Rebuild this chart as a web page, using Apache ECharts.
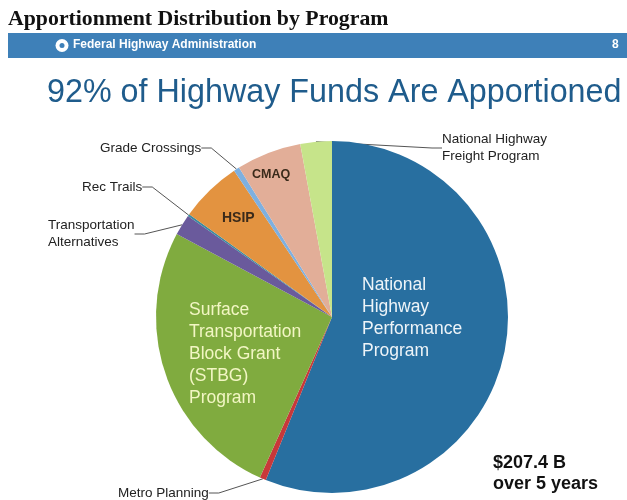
<!DOCTYPE html>
<html>
<head>
<meta charset="utf-8">
<script src="https://cdn.jsdelivr.net/npm/echarts@6/dist/echarts.min.js"></script>
<style>
  html, body { margin: 0; padding: 0; background: #fff; }
  #chart { width: 627px; height: 500px; }
</style>
</head>
<body>
<div id="chart"></div>
<script>
// programs, clockwise from 12 o'clock
var categories = [
    'National Highway Performance Program',
    'Metro Planning',
    'Surface Transportation Block Grant (STBG) Program',
    'Transportation Alternatives',
    'Rec Trails',
    'HSIP',
    'Grade Crossings',
    'CMAQ',
    'National Highway Freight Program'
];
// $ billions, FY2016-2020
var apportioned = [116.6, 1.2, 54.2, 4.0, 0.4, 11.8, 1.1, 12.4, 6.0];
var sliceLabels = [
    'National\nHighway\nPerformance\nProgram',
    'Metro Planning',
    'Surface\nTransportation\nBlock Grant\n(STBG)\nProgram',
    'Transportation\nAlternatives',
    'Rec Trails',
    'HSIP',
    'Grade Crossings',
    'CMAQ',
    'National Highway\nFreight Program'
];

var colors = ['#286fa0', '#c8383a', '#80ab3f', '#6a5a9c', '#3a8aa0', '#e39340', '#7eb0e0', '#e2ae98', '#c6e48a'];

// where each label sits (inside labels and call-outs)
var labelPos = [
    {x: 362, y: 318, inside: true, size: 17.5, color: '#eef4f8', lh: 22},
    {x: 118, y: 493, size: 13.5, color: '#222', lh: 14},
    {x: 189, y: 354, inside: true, size: 17.5, color: '#f2f6c4', lh: 22},
    {x: 48, y: 234, size: 13.5, color: '#222', lh: 17},
    {x: 82, y: 187, size: 13.5, color: '#222', lh: 14},
    {x: 222, y: 218, inside: true, size: 14, color: '#3a2a1a', lh: 14, bold: true},
    {x: 100, y: 148, size: 13.5, color: '#222', lh: 14},
    {x: 252, y: 175, inside: true, size: 12.5, color: '#3a2a1a', lh: 14, bold: true},
    {x: 442, y: 148, size: 13.5, color: '#222', lh: 17}
];

var data = categories.map(function (name, i) {
    var p = labelPos[i];
    return {
        name: name,
        value: apportioned[i],
        itemStyle: {color: colors[i]},
        label: {
            show: true,
            position: p.inside ? 'inside' : 'outside',
            formatter: sliceLabels[i],
            fontSize: p.size,
            fontWeight: p.bold ? 'bold' : 'normal',
            lineHeight: p.lh,
            color: p.color,
            align: 'left'
        },
        labelLine: {show: !p.inside}
    };
});

var myChart = echarts.init(document.getElementById('chart'));

var option = {
    backgroundColor: '#fff',
    animation: false,
    textStyle: {fontFamily: 'Liberation Sans, Arial, sans-serif'},
    graphic: [
        {
            type: 'text', left: 8, top: 8,
            style: {text: 'Apportionment Distribution by Program', font: 'bold 21.8px "Liberation Serif", serif', fill: '#111'}
        },
        {
            type: 'rect', shape: {x: 8, y: 33, width: 619, height: 25},
            style: {fill: '#3e80b8'}
        },
        {
            type: 'circle', shape: {cx: 62, cy: 45.5, r: 6.5},
            style: {fill: '#fff'}
        },
        {
            type: 'circle', shape: {cx: 62, cy: 45.5, r: 2.5},
            style: {fill: '#3e80b8'}
        },
        {
            type: 'text', left: 73, top: 39,
            style: {text: 'Federal Highway Administration', font: 'bold 12px "Liberation Sans", Arial, sans-serif', fill: '#fff'}
        },
        {
            type: 'text', left: 612, top: 39,
            style: {text: '8', font: 'bold 12px "Liberation Sans", Arial, sans-serif', fill: '#fff'}
        },
        {
            type: 'text', left: 47, top: 77,
            style: {text: '92% of Highway Funds Are Apportioned', font: '32.3px "Liberation Sans", Arial, sans-serif', fill: '#1f5c8c'}
        },
        {
            type: 'text', left: 493, top: 453,
            style: {text: '$207.4 B\nover 5 years', font: 'bold 18px "Liberation Sans", Arial, sans-serif', lineHeight: 21, fill: '#111'}
        }
    ],
    series: [
        {
            type: 'pie',
            center: [332, 317],
            radius: 176,
            startAngle: 90,
            clockwise: true,
            avoidLabelOverlap: false,
            label: {fontFamily: 'Liberation Sans, Arial, sans-serif'},
            labelLine: {show: true, length: 10, length2: 10, lineStyle: {color: '#555', width: 1}},
            labelLayout: function (params) {
                var p = labelPos[params.dataIndex];
                return {x: p.x, y: p.y, align: 'left', verticalAlign: 'middle'};
            },
            emphasis: {disabled: true},
            data: data
        }
    ]
};

myChart.setOption(option);
</script>
</body>
</html>
